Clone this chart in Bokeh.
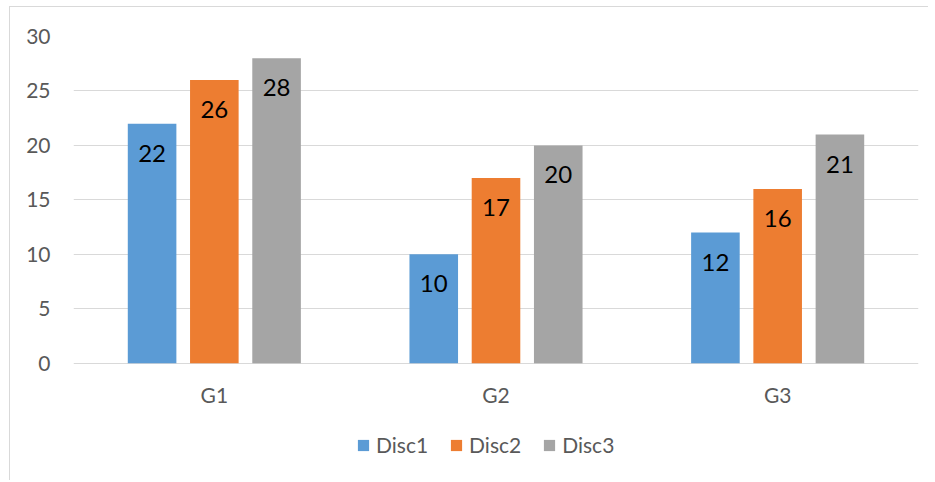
from bokeh.plotting import figure
from bokeh.models import (ColumnDataSource, Range1d, FactorRange, LabelSet, Legend, LegendItem,
                          FixedTicker)
from bokeh.transform import dodge
from bokeh.core.properties import value
from bokeh.embed import file_html
from bokeh.resources import INLINE

groups = ["G1", "G2", "G3"]
disc1 = [22, 10, 12]
disc2 = [26, 17, 16]
disc3 = [28, 20, 21]
series_names = ["Disc1", "Disc2", "Disc3"]
colors = ["#5B9BD5", "#ED7D31", "#A5A5A5"]
y_ticks = [0, 5, 10, 15, 20, 25, 30]

src = ColumnDataSource(data=dict(groups=groups, Disc1=disc1, Disc2=disc2, Disc3=disc3,
                                 L1=[str(v) for v in disc1], L2=[str(v) for v in disc2],
                                 L3=[str(v) for v in disc3]))

FONT = "Lato"
p = figure(width=919, height=474, x_range=FactorRange(*groups), y_range=Range1d(-10.86, 30),
           output_backend="svg", toolbar_location=None, x_axis_location=None,
           min_border_left=63, min_border_right=11, min_border_top=29, min_border_bottom=0)
p.styles = {"border-left": "1px solid #D9D9D9", "border-top": "1px solid #D9D9D9",
            "margin-left": "9px", "margin-top": "6px"}
p.outline_line_color = None
p.background_fill_color = "white"
p.border_fill_color = "white"

offsets = [-0.221, 0.0, 0.221]
bw = 0.1725
renderers = []
for i, name in enumerate(series_names):
    r = p.vbar(x=dodge("groups", offsets[i], range=p.x_range), top=name, width=bw, bottom=0,
               source=src, fill_color=colors[i], line_color=None)
    renderers.append(r)
    lab = LabelSet(x=dodge("groups", offsets[i], range=p.x_range), y=name, text="L%d" % (i + 1),
                   source=src, y_offset=-29.5, text_align="center", text_baseline="middle",
                   text_font=value(FONT), text_font_size="24px", text_color="#000000")
    p.add_layout(lab)

# category labels under the baseline
cat_labels = LabelSet(x="groups", y=0, text="groups", source=src, y_offset=-31.5,
                      text_align="center", text_baseline="middle",
                      text_font=value(FONT), text_font_size="21px", text_color="#595959")
p.add_layout(cat_labels)

p.xgrid.visible = False
p.ygrid.grid_line_color = "#D9D9D9"
p.ygrid.grid_line_width = 1

p.yaxis.ticker = FixedTicker(ticks=y_ticks)
p.yaxis.axis_line_color = None
p.yaxis.major_tick_line_color = None
p.yaxis.minor_tick_line_color = None
p.yaxis.major_label_standoff = 17
p.yaxis.major_label_text_font = FONT
p.yaxis.major_label_text_font_size = "21px"
p.yaxis.major_label_text_color = "#595959"

legend = Legend(items=[LegendItem(label=n, renderers=[r]) for n, r in zip(series_names, renderers)],
                orientation="horizontal", location=(283, 24),
                glyph_width=14, glyph_height=14, label_standoff=6, spacing=21,
                padding=0, margin=0, border_line_color=None, background_fill_alpha=0,
                label_text_font=FONT, label_text_font_size="21px", label_text_color="#595959",
                label_height=14, label_text_baseline="middle")
p.add_layout(legend, "center")

open("out.html", "w").write(file_html(p, INLINE))
